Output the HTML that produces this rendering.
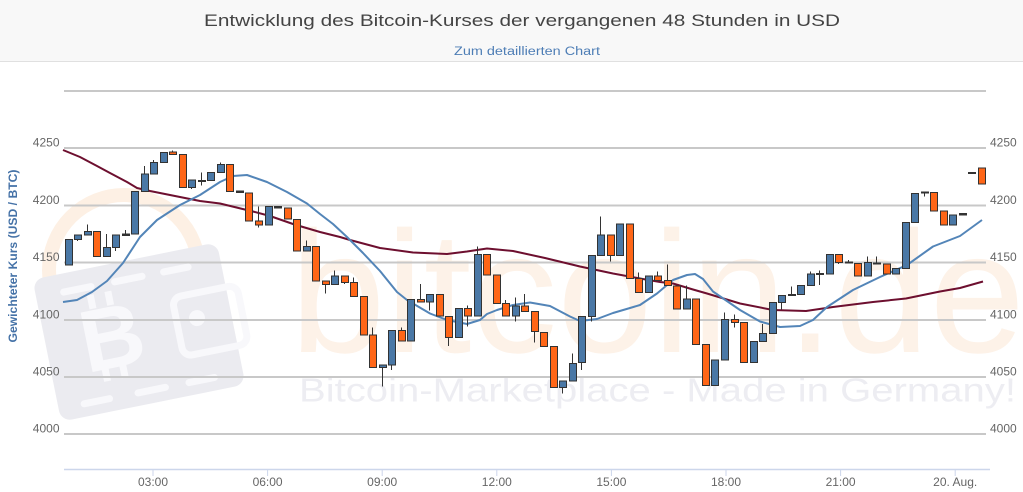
<!DOCTYPE html>
<html><head><meta charset="utf-8"><style>
html,body{margin:0;padding:0;background:#fff;}
svg{display:block;}
</style></head><body>
<svg width="1023" height="492" viewBox="0 0 1023 492" xmlns="http://www.w3.org/2000/svg" font-family="'Liberation Sans', sans-serif">
<rect x="0" y="0" width="1023" height="492" fill="#fff"/>
<rect x="0" y="0" width="1023" height="61" fill="#f8f8f8"/>
<line x1="0" y1="61.5" x2="1023" y2="61.5" stroke="#e0e0e0" stroke-width="1"/>
<text x="204" y="26" font-size="17" fill="#444" textLength="636" lengthAdjust="spacingAndGlyphs">Entwicklung des Bitcoin-Kurses der vergangenen 48 Stunden in USD</text>
<text x="454" y="55" font-size="11.5" fill="#4d7db5" textLength="146" lengthAdjust="spacingAndGlyphs">Zum detaillierten Chart</text>

<!-- watermark -->
<circle cx="124" cy="270" r="75" fill="none" stroke="#fdf0e4" stroke-width="14"/>
<g transform="rotate(-11.4 139 332)">
  <rect x="45" y="259.5" width="188" height="145" rx="11" fill="#ebebf0"/>
  <g stroke="#f8f8fb" stroke-width="7" stroke-linecap="round" fill="none">
    <line x1="73" y1="278" x2="101" y2="278"/>
    <line x1="125" y1="278" x2="153" y2="278"/>
    <line x1="175" y1="278" x2="200" y2="278"/>
    <line x1="71" y1="391.5" x2="97" y2="391.5"/>
    <line x1="126" y1="391.5" x2="154" y2="391.5"/>
    <line x1="178" y1="391.5" x2="204" y2="391.5"/>
    <rect x="178" y="305" width="66" height="60" rx="9"/>
  </g>
  <circle cx="198.6" cy="329.8" r="8" fill="#f8f8fb"/>
  <text x="111.5" y="362" font-size="88" font-weight="bold" fill="#f8f8fb" text-anchor="middle">B</text>
  <rect x="95" y="286" width="7" height="14" fill="#f8f8fb"/>
  <rect x="113" y="286" width="7" height="14" fill="#f8f8fb"/>
  <rect x="95" y="360" width="7" height="14" fill="#f8f8fb"/>
  <rect x="113" y="360" width="7" height="14" fill="#f8f8fb"/>
</g>
<text x="290" y="352" font-size="173" fill="#fdf2e8" textLength="735" lengthAdjust="spacingAndGlyphs">bitcoin.de</text>
<text x="299" y="401.5" font-size="33" fill="#ededf2" textLength="717" lengthAdjust="spacingAndGlyphs">Bitcoin-Marketplace - Made in Germany!</text>

<!-- grid -->
<g stroke="#c8c8c8" stroke-width="2">
  <line x1="64" y1="91" x2="986" y2="91"/>
  <line x1="64" y1="148" x2="986" y2="148"/>
  <line x1="64" y1="205.5" x2="986" y2="205.5"/>
  <line x1="64" y1="262.5" x2="986" y2="262.5"/>
  <line x1="64" y1="320" x2="986" y2="320"/>
  <line x1="64" y1="377" x2="986" y2="377"/>
  <line x1="64" y1="434" x2="986" y2="434"/>
</g>
<line x1="64" y1="469.5" x2="990" y2="469.5" stroke="#ccd6eb" stroke-width="1.5"/>
<g stroke="#ccd6eb" stroke-width="1">
  <line x1="153" y1="470" x2="153" y2="476"/>
  <line x1="267.6" y1="470" x2="267.6" y2="476"/>
  <line x1="382.2" y1="470" x2="382.2" y2="476"/>
  <line x1="496.8" y1="470" x2="496.8" y2="476"/>
  <line x1="611.4" y1="470" x2="611.4" y2="476"/>
  <line x1="726" y1="470" x2="726" y2="476"/>
  <line x1="840.6" y1="470" x2="840.6" y2="476"/>
  <line x1="955.2" y1="470" x2="955.2" y2="476"/>
</g>

<!-- axis labels -->
<g font-size="12" fill="#666" text-anchor="end">
  <text x="59.5" y="146.5">4250</text>
  <text x="59.5" y="204">4200</text>
  <text x="59.5" y="261">4150</text>
  <text x="59.5" y="318.5">4100</text>
  <text x="59.5" y="375.5">4050</text>
  <text x="59.5" y="432.5">4000</text>
</g>
<g font-size="12" fill="#666" text-anchor="start">
  <text x="990" y="146.5">4250</text>
  <text x="990" y="204">4200</text>
  <text x="990" y="261">4150</text>
  <text x="990" y="318.5">4100</text>
  <text x="990" y="375.5">4050</text>
  <text x="990" y="432.5">4000</text>
</g>
<g font-size="12" fill="#666" text-anchor="middle">
  <text x="153" y="486">03:00</text>
  <text x="267.6" y="486">06:00</text>
  <text x="382.2" y="486">09:00</text>
  <text x="496.8" y="486">12:00</text>
  <text x="611.4" y="486">15:00</text>
  <text x="726" y="486">18:00</text>
  <text x="840.6" y="486">21:00</text>
  <text x="955.2" y="486">20. Aug.</text>
</g>
<text transform="translate(17,256) rotate(-90)" font-size="12" font-weight="bold" fill="#4572a7" text-anchor="middle" textLength="173" lengthAdjust="spacingAndGlyphs">Gewichteter Kurs (USD / BTC)</text>

<!-- moving averages -->
<polyline fill="none" stroke="#6d0f2f" stroke-width="2" stroke-linejoin="round" points="63,150 80,157 97,166 110,173 127,182 137,188 150,191 170,195 200,201 220,203.5 253,211.5 270,216 293,224 303,227 320,232 340,237 350,240 380,248 413,252.5 447,254 467,251.5 487,248.5 513,251 545,258 580,266.5 613,273.5 640,278.5 660,282 673,283.5 693,289.5 707,293.5 740,303.5 773,310 806,311 833,307 873,302 906,298.5 940,291.5 960,288 983,281.5"/>
<polyline fill="none" stroke="#5385b8" stroke-width="2" stroke-linejoin="round" points="63,302 77,300 92,292 107,281 123,263 140,237 157,220 180,205 200,195 220,182 233,176 247,175 267,182 287,192 307,203.5 320,214 333,224 347,237 363,253 380,271 397,292 407,300 430,313.5 447,320 467,324 480,320 487,314 497,310 513,305 530,302.5 550,306 570,316.5 580,321 597,319 613,313 630,308 640,305 657,293.5 673,280 687,275 695,274 703,279 713,291.5 740,310 760,321.5 780,327 800,326 813,320 827,307 853,290 880,277 907,265 933,246.5 960,236 982,220"/>

<!-- candles -->
<g stroke="#333" stroke-width="1">
<line x1="68.5" y1="239.5" x2="68.5" y2="265"/><rect x="65.5" y="239.5" width="7" height="25.5" fill="#4a78a6"/>
<line x1="77.5" y1="235" x2="77.5" y2="241"/><rect x="74.5" y="235" width="7" height="4.5" fill="#4a78a6"/>
<line x1="87.5" y1="224.5" x2="87.5" y2="235"/><rect x="84.5" y="231.5" width="7" height="3.5" fill="#4a78a6"/>
<line x1="96.5" y1="231.5" x2="96.5" y2="256.5"/><rect x="93.5" y="231.5" width="7" height="25" fill="#ff6617"/>
<line x1="106.5" y1="234" x2="106.5" y2="256.5"/><rect x="103.5" y="247.5" width="7" height="9" fill="#4a78a6"/>
<line x1="115.5" y1="235" x2="115.5" y2="251"/><rect x="112.5" y="235" width="7" height="12.5" fill="#4a78a6"/>
<line x1="125.5" y1="230" x2="125.5" y2="235.5"/><rect x="122.5" y="234" width="7" height="1.5" fill="#333"/>
<line x1="134.5" y1="191.5" x2="134.5" y2="234"/><rect x="131.5" y="191.5" width="7" height="42.5" fill="#4a78a6"/>
<line x1="144.5" y1="166" x2="144.5" y2="191.5"/><rect x="141.5" y="174" width="7" height="17.5" fill="#4a78a6"/>
<line x1="153.5" y1="160" x2="153.5" y2="174"/><rect x="150.5" y="162.5" width="7" height="11.5" fill="#4a78a6"/>
<line x1="163.5" y1="152.5" x2="163.5" y2="162.5"/><rect x="160.5" y="152.5" width="7" height="10" fill="#4a78a6"/>
<line x1="172.5" y1="150.5" x2="172.5" y2="154.5"/><rect x="169.5" y="152" width="7" height="2.5" fill="#ff6617"/>
<line x1="182.5" y1="154.5" x2="182.5" y2="187.5"/><rect x="179.5" y="154.5" width="7" height="33" fill="#ff6617"/>
<line x1="191.5" y1="180" x2="191.5" y2="189"/><rect x="188.5" y="180" width="7" height="7.5" fill="#4a78a6"/>
<line x1="201.5" y1="172.5" x2="201.5" y2="185.5"/><rect x="198.5" y="180.5" width="7" height="1" fill="#333"/>
<line x1="210.5" y1="172.5" x2="210.5" y2="180.5"/><rect x="207.5" y="172.5" width="7" height="8" fill="#4a78a6"/>
<line x1="220.5" y1="162.5" x2="220.5" y2="172.5"/><rect x="217.5" y="164.5" width="7" height="8" fill="#4a78a6"/>
<line x1="229.5" y1="164.5" x2="229.5" y2="191.5"/><rect x="226.5" y="164.5" width="7" height="27" fill="#ff6617"/>
<line x1="239.5" y1="191" x2="239.5" y2="193"/><rect x="236.5" y="191" width="7" height="1.5" fill="#333"/>
<line x1="248.5" y1="193" x2="248.5" y2="221"/><rect x="245.5" y="193" width="7" height="28" fill="#ff6617"/>
<line x1="258.5" y1="206.5" x2="258.5" y2="227.5"/><rect x="255.5" y="221" width="7" height="4" fill="#ff6617"/>
<line x1="268.5" y1="206.5" x2="268.5" y2="225"/><rect x="265.5" y="206.5" width="7" height="18.5" fill="#4a78a6"/>
<line x1="277.5" y1="206.5" x2="277.5" y2="208"/><rect x="274.5" y="206.5" width="7" height="1.5" fill="#333"/>
<line x1="287.5" y1="208" x2="287.5" y2="219"/><rect x="284.5" y="208" width="7" height="11" fill="#ff6617"/>
<line x1="296.5" y1="219.5" x2="296.5" y2="251"/><rect x="293.5" y="219.5" width="7" height="31.5" fill="#ff6617"/>
<line x1="306.5" y1="240.5" x2="306.5" y2="251"/><rect x="303.5" y="246.5" width="7" height="4.5" fill="#4a78a6"/>
<line x1="315.5" y1="246.5" x2="315.5" y2="281"/><rect x="312.5" y="246.5" width="7" height="34.5" fill="#ff6617"/>
<line x1="325.5" y1="281" x2="325.5" y2="293.5"/><rect x="322.5" y="281" width="7" height="3.5" fill="#ff6617"/>
<line x1="334.5" y1="270.5" x2="334.5" y2="284.5"/><rect x="331.5" y="276" width="7" height="8.5" fill="#4a78a6"/>
<line x1="344.5" y1="276" x2="344.5" y2="284"/><rect x="341.5" y="276" width="7" height="6.5" fill="#ff6617"/>
<line x1="353.5" y1="277.5" x2="353.5" y2="296.5"/><rect x="350.5" y="282.5" width="7" height="14" fill="#ff6617"/>
<line x1="363.5" y1="296.5" x2="363.5" y2="335"/><rect x="360.5" y="296.5" width="7" height="38.5" fill="#ff6617"/>
<line x1="372.5" y1="327.5" x2="372.5" y2="367.5"/><rect x="369.5" y="335" width="7" height="32.5" fill="#ff6617"/>
<line x1="382.5" y1="365" x2="382.5" y2="386.5"/><rect x="379.5" y="365" width="7" height="2.5" fill="#4a78a6"/>
<line x1="391.5" y1="330.5" x2="391.5" y2="370"/><rect x="388.5" y="330.5" width="7" height="34.5" fill="#4a78a6"/>
<line x1="401.5" y1="327.5" x2="401.5" y2="341"/><rect x="398.5" y="330.5" width="7" height="10.5" fill="#ff6617"/>
<line x1="410.5" y1="299.5" x2="410.5" y2="341"/><rect x="407.5" y="299.5" width="7" height="41.5" fill="#4a78a6"/>
<line x1="420.5" y1="284" x2="420.5" y2="302"/><rect x="417.5" y="299.5" width="7" height="2.5" fill="#ff6617"/>
<line x1="429.5" y1="294.5" x2="429.5" y2="310.5"/><rect x="426.5" y="294.5" width="7" height="7.5" fill="#4a78a6"/>
<line x1="439.5" y1="294.5" x2="439.5" y2="316"/><rect x="436.5" y="294.5" width="7" height="21.5" fill="#ff6617"/>
<line x1="448.5" y1="316.5" x2="448.5" y2="346"/><rect x="445.5" y="316.5" width="7" height="21" fill="#ff6617"/>
<line x1="458.5" y1="308.5" x2="458.5" y2="337.5"/><rect x="455.5" y="308.5" width="7" height="29" fill="#4a78a6"/>
<line x1="467.5" y1="305.5" x2="467.5" y2="326.5"/><rect x="464.5" y="308.5" width="7" height="7.5" fill="#ff6617"/>
<line x1="477.5" y1="246.5" x2="477.5" y2="316"/><rect x="474.5" y="254.5" width="7" height="61.5" fill="#4a78a6"/>
<line x1="486.5" y1="254.5" x2="486.5" y2="275"/><rect x="483.5" y="254.5" width="7" height="20.5" fill="#ff6617"/>
<line x1="496.5" y1="275" x2="496.5" y2="303.5"/><rect x="493.5" y="275" width="7" height="28.5" fill="#ff6617"/>
<line x1="505.5" y1="300" x2="505.5" y2="316"/><rect x="502.5" y="303.5" width="7" height="12.5" fill="#ff6617"/>
<line x1="515.5" y1="297.5" x2="515.5" y2="321.5"/><rect x="512.5" y="306" width="7" height="10" fill="#4a78a6"/>
<line x1="524.5" y1="294" x2="524.5" y2="311.5"/><rect x="521.5" y="306" width="7" height="5.5" fill="#ff6617"/>
<line x1="534.5" y1="311.5" x2="534.5" y2="342.5"/><rect x="531.5" y="311.5" width="7" height="20" fill="#ff6617"/>
<line x1="543.5" y1="332.5" x2="543.5" y2="346.5"/><rect x="540.5" y="332.5" width="7" height="14" fill="#ff6617"/>
<line x1="553.5" y1="346.5" x2="553.5" y2="387.5"/><rect x="550.5" y="346.5" width="7" height="41" fill="#ff6617"/>
<line x1="562.5" y1="381" x2="562.5" y2="393.5"/><rect x="559.5" y="381" width="7" height="6.5" fill="#4a78a6"/>
<line x1="572.5" y1="353.5" x2="572.5" y2="381"/><rect x="569.5" y="363.5" width="7" height="17.5" fill="#4a78a6"/>
<line x1="581.5" y1="316.5" x2="581.5" y2="370"/><rect x="578.5" y="316.5" width="7" height="46" fill="#4a78a6"/>
<line x1="591.5" y1="255.5" x2="591.5" y2="321.5"/><rect x="588.5" y="255.5" width="7" height="61" fill="#4a78a6"/>
<line x1="600.5" y1="216.5" x2="600.5" y2="255.5"/><rect x="597.5" y="235" width="7" height="20.5" fill="#4a78a6"/>
<line x1="610.5" y1="235" x2="610.5" y2="261.5"/><rect x="607.5" y="235" width="7" height="20.5" fill="#ff6617"/>
<line x1="619.5" y1="224" x2="619.5" y2="255.5"/><rect x="616.5" y="224" width="7" height="31.5" fill="#4a78a6"/>
<line x1="629.5" y1="224" x2="629.5" y2="278.5"/><rect x="626.5" y="224" width="7" height="54.5" fill="#ff6617"/>
<line x1="638.5" y1="272.5" x2="638.5" y2="292.5"/><rect x="635.5" y="278.5" width="7" height="14" fill="#ff6617"/>
<line x1="648.5" y1="276" x2="648.5" y2="292.5"/><rect x="645.5" y="276" width="7" height="16.5" fill="#4a78a6"/>
<line x1="657.5" y1="271.5" x2="657.5" y2="280.5"/><rect x="654.5" y="276" width="7" height="4.5" fill="#ff6617"/>
<line x1="667.5" y1="264.5" x2="667.5" y2="285.5"/><rect x="664.5" y="280.5" width="7" height="5" fill="#ff6617"/>
<line x1="676.5" y1="286" x2="676.5" y2="309"/><rect x="673.5" y="286" width="7" height="23" fill="#ff6617"/>
<line x1="686.5" y1="285.5" x2="686.5" y2="309"/><rect x="683.5" y="299" width="7" height="10" fill="#4a78a6"/>
<line x1="695.5" y1="299" x2="695.5" y2="344.5"/><rect x="692.5" y="299" width="7" height="45.5" fill="#ff6617"/>
<line x1="705.5" y1="344.5" x2="705.5" y2="385.5"/><rect x="702.5" y="344.5" width="7" height="41" fill="#ff6617"/>
<line x1="714.5" y1="360" x2="714.5" y2="385.5"/><rect x="711.5" y="360" width="7" height="25.5" fill="#4a78a6"/>
<line x1="724.5" y1="312.5" x2="724.5" y2="360"/><rect x="721.5" y="319.5" width="7" height="40.5" fill="#4a78a6"/>
<line x1="734.5" y1="314.5" x2="734.5" y2="327.5"/><rect x="731.5" y="319.5" width="7" height="3" fill="#ff6617"/>
<line x1="743.5" y1="322.5" x2="743.5" y2="362.5"/><rect x="740.5" y="322.5" width="7" height="40" fill="#ff6617"/>
<line x1="753.5" y1="341.5" x2="753.5" y2="362.5"/><rect x="750.5" y="341.5" width="7" height="21" fill="#4a78a6"/>
<line x1="762.5" y1="324" x2="762.5" y2="341.5"/><rect x="759.5" y="333.5" width="7" height="8" fill="#4a78a6"/>
<line x1="772.5" y1="302.5" x2="772.5" y2="333.5"/><rect x="769.5" y="302.5" width="7" height="31" fill="#4a78a6"/>
<line x1="781.5" y1="295.5" x2="781.5" y2="309.5"/><rect x="778.5" y="295.5" width="7" height="7" fill="#4a78a6"/>
<line x1="791.5" y1="286.5" x2="791.5" y2="295.5"/><rect x="788.5" y="294.5" width="7" height="1" fill="#333"/>
<line x1="800.5" y1="285.5" x2="800.5" y2="294.5"/><rect x="797.5" y="285.5" width="7" height="9" fill="#4a78a6"/>
<line x1="810.5" y1="271.5" x2="810.5" y2="285.5"/><rect x="807.5" y="274" width="7" height="11.5" fill="#4a78a6"/>
<line x1="819.5" y1="270.5" x2="819.5" y2="285"/><rect x="816.5" y="273.5" width="7" height="1" fill="#333"/>
<line x1="829.5" y1="254.5" x2="829.5" y2="274"/><rect x="826.5" y="254.5" width="7" height="19.5" fill="#4a78a6"/>
<line x1="838.5" y1="254.5" x2="838.5" y2="264"/><rect x="835.5" y="254.5" width="7" height="8" fill="#ff6617"/>
<line x1="848.5" y1="260" x2="848.5" y2="263"/><rect x="845.5" y="262" width="7" height="1" fill="#333"/>
<line x1="857.5" y1="263.5" x2="857.5" y2="276"/><rect x="854.5" y="263.5" width="7" height="12.5" fill="#ff6617"/>
<line x1="867.5" y1="256.5" x2="867.5" y2="276"/><rect x="864.5" y="262.5" width="7" height="13.5" fill="#4a78a6"/>
<line x1="876.5" y1="256.5" x2="876.5" y2="264"/><rect x="873.5" y="263" width="7" height="1" fill="#333"/>
<line x1="886.5" y1="264" x2="886.5" y2="274"/><rect x="883.5" y="264" width="7" height="10" fill="#ff6617"/>
<line x1="895.5" y1="268.5" x2="895.5" y2="274"/><rect x="892.5" y="268.5" width="7" height="5.5" fill="#4a78a6"/>
<line x1="905.5" y1="222.5" x2="905.5" y2="268.5"/><rect x="902.5" y="222.5" width="7" height="46" fill="#4a78a6"/>
<line x1="914.5" y1="193.5" x2="914.5" y2="222.5"/><rect x="911.5" y="193.5" width="7" height="29" fill="#4a78a6"/>
<line x1="924.5" y1="192" x2="924.5" y2="196.5"/><rect x="921.5" y="192" width="7" height="1" fill="#333"/>
<line x1="933.5" y1="192.5" x2="933.5" y2="211"/><rect x="930.5" y="192.5" width="7" height="18.5" fill="#ff6617"/>
<line x1="943.5" y1="211" x2="943.5" y2="225"/><rect x="940.5" y="211" width="7" height="14" fill="#ff6617"/>
<line x1="952.5" y1="215" x2="952.5" y2="225"/><rect x="949.5" y="215" width="7" height="10" fill="#4a78a6"/>
<line x1="962.5" y1="213.5" x2="962.5" y2="215"/><rect x="959.5" y="213.5" width="7" height="1.5" fill="#333"/>
<line x1="971.5" y1="172.5" x2="971.5" y2="173.5"/><rect x="968.5" y="172.5" width="7" height="1" fill="#333"/>
<line x1="981.5" y1="168" x2="981.5" y2="184"/><rect x="978.5" y="168" width="7" height="16" fill="#ff6617"/>
</g>
</svg>
</body></html>
